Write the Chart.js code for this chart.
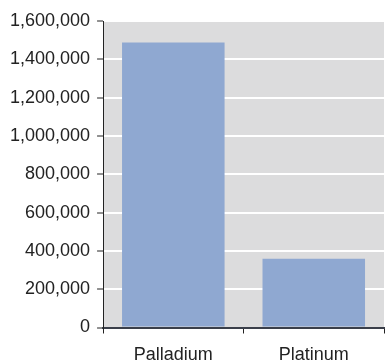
<!DOCTYPE html>
<html><head><meta charset="utf-8">
<script src="https://cdn.jsdelivr.net/npm/chart.js@4"></script>
<style>html,body{margin:0;padding:0;background:#fff}#wrap{width:385px;height:363px}</style>
</head><body><div id="wrap"><canvas id="c"></canvas></div>
<script>
const categories = ["Palladium", "Platinum"];
const values = [1488000, 359000];
const yTicks = [0, 200000, 400000, 600000, 800000, 1000000, 1200000, 1400000, 1600000];

const bgPlugin = {
  id: 'bg',
  beforeDraw(chart) {
    const {ctx, chartArea: a} = chart;
    ctx.save();
    ctx.fillStyle = '#dcdcdd';
    ctx.fillRect(a.left, a.top, a.right - a.left, a.bottom - a.top);
    ctx.restore();
  }
};

const FONT = 'Liberation Sans, Arial, sans-serif';

new Chart(document.getElementById('c'), {
  type: 'bar',
  data: {
    labels: categories,
    datasets: [{ data: values, backgroundColor: '#8fa8d1', borderWidth: 0, categoryPercentage: 0.73, barPercentage: 1 }]
  },
  options: {
    responsive: true, maintainAspectRatio: false, animation: false,
    layout: { padding: { top: 21, right: 1, left: 3, bottom: 0 } },
    plugins: { legend: { display: false }, tooltip: { enabled: false } },
    scales: {
      x: {
        afterFit(scale) { scale.height = 35.5; },
        grid: { offset: true, color: 'rgba(0,0,0,0)', tickColor: '#222', tickLength: 6, drawOnChartArea: false },
        border: { display: true, color: '#3a3f4a', width: 2 },
        ticks: { color: '#222', font: { family: FONT, size: 18 }, padding: 11 }
      },
      y: {
        min: 0, max: 1600000,
        afterBuildTicks(scale) { scale.ticks = yTicks.map(v => ({ value: v })); },
        grid: { color: '#ffffff', lineWidth: 2, tickColor: '#222', tickLength: 6, tickWidth: 1 },
        border: { display: true, color: '#222', width: 1 },
        ticks: { color: '#222', font: { family: FONT, size: 18 }, padding: 7,
          callback: v => v.toLocaleString('en-US') }
      }
    }
  },
  plugins: [bgPlugin]
});
</script></body></html>
